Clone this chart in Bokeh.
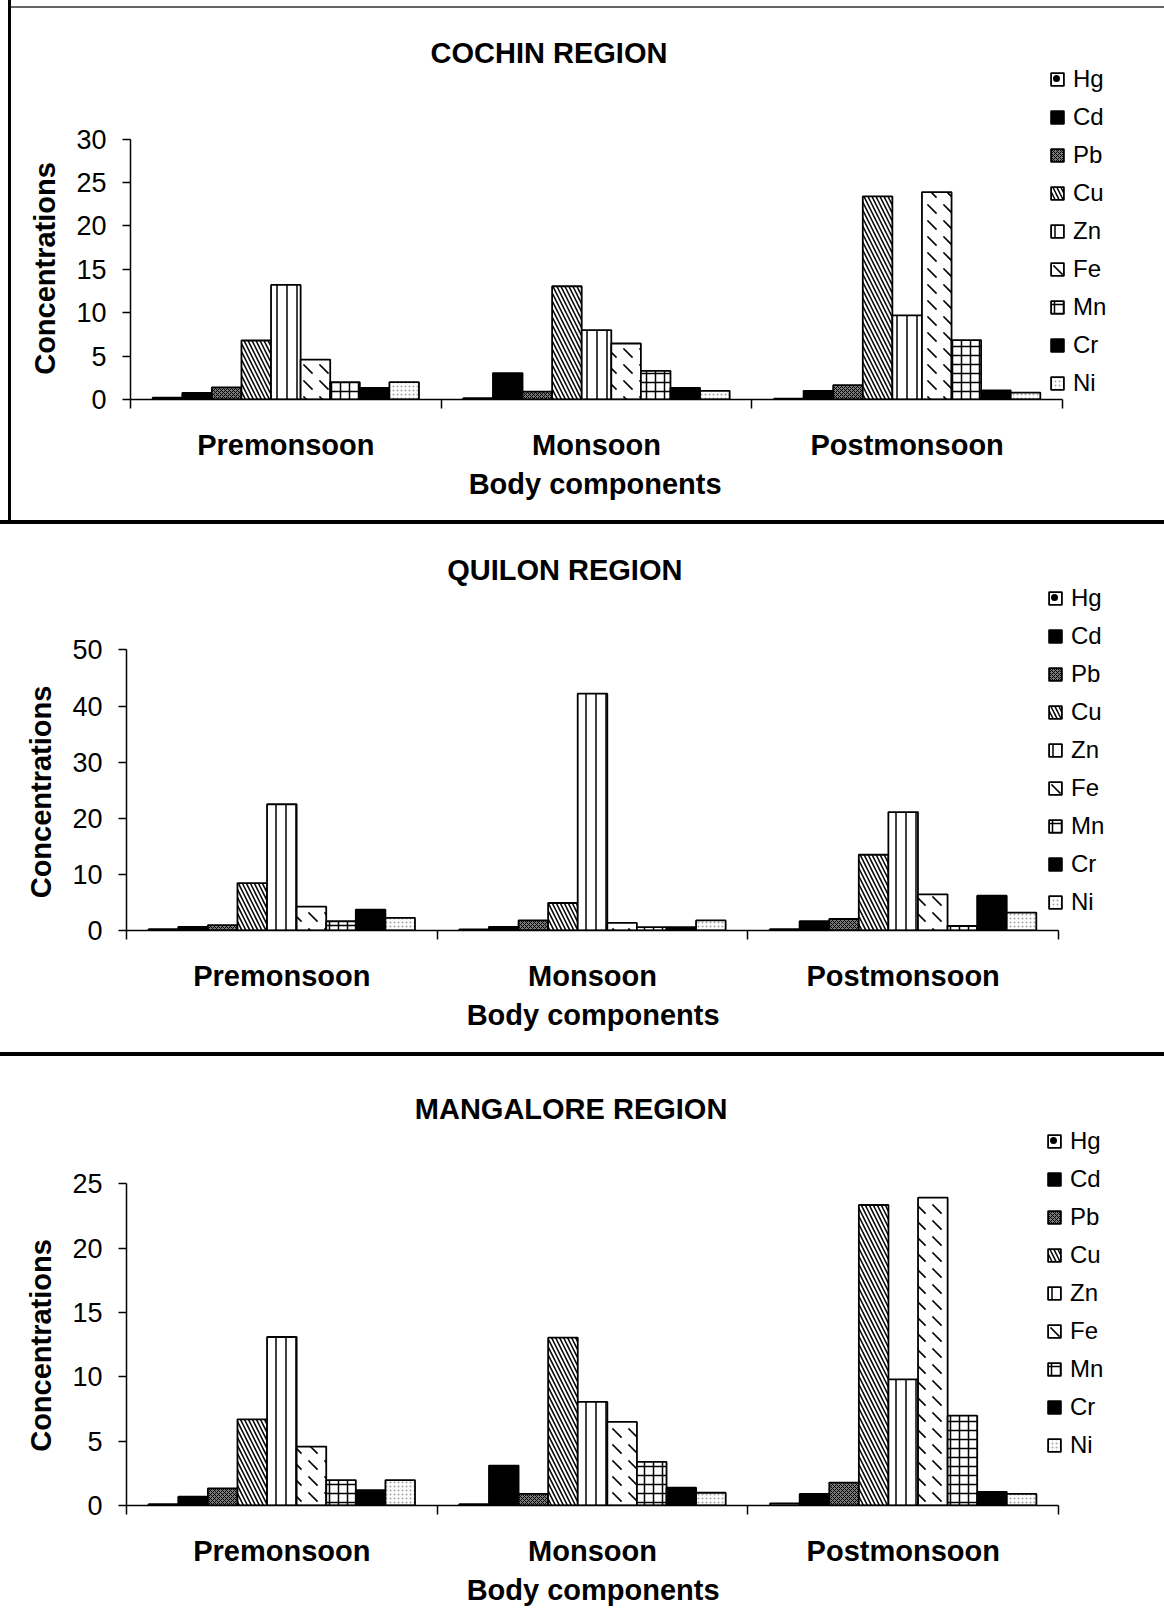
import numpy as np
from bokeh.plotting import figure
from bokeh.models import (ColumnDataSource, Range1d, FixedTicker, Legend, LegendItem,
                          Label, Div)
from bokeh.layouts import column, row
from bokeh.embed import file_html
from bokeh.resources import INLINE

seasons = ["Premonsoon", "Monsoon", "Postmonsoon"]
metals = ["Hg", "Cd", "Pb", "Cu", "Zn", "Fe", "Mn", "Cr", "Ni"]

# values per season, in metal order Hg, Cd, Pb, Cu, Zn, Fe, Mn, Cr, Ni
cochin_premonsoon = [0.2, 0.75, 1.4, 6.8, 13.2, 4.6, 2.0, 1.35, 2.0]
cochin_monsoon = [0.15, 3.05, 0.9, 13.05, 8.0, 6.45, 3.3, 1.35, 1.0]
cochin_postmonsoon = [0.1, 1.0, 1.65, 23.4, 9.7, 23.9, 6.85, 1.05, 0.8]

quilon_premonsoon = [0.24, 0.65, 0.95, 8.45, 22.5, 4.25, 1.65, 3.7, 2.25]
quilon_monsoon = [0.18, 0.65, 1.8, 4.9, 42.2, 1.35, 0.6, 0.6, 1.8]
quilon_postmonsoon = [0.24, 1.65, 2.05, 13.5, 21.1, 6.45, 0.8, 6.2, 3.2]

mangalore_premonsoon = [0.1, 0.68, 1.33, 6.7, 13.1, 4.58, 1.98, 1.19, 1.98]
mangalore_monsoon = [0.1, 3.1, 0.9, 13.05, 8.05, 6.5, 3.39, 1.38, 0.99]
mangalore_postmonsoon = [0.17, 0.9, 1.78, 23.36, 9.8, 23.93, 6.98, 1.05, 0.9]

cochin_ticks = [0, 5, 10, 15, 20, 25, 30]
quilon_ticks = [0, 10, 20, 30, 40, 50]
mangalore_ticks = [0, 5, 10, 15, 20, 25]

x_title = "Body components"
y_title = "Concentrations"

FONT = "Liberation Sans"
LABEL_PX = 29
NBSP_W = 0.278 * LABEL_PX  # advance of a no-break space in Liberation Sans Bold

STYLES = {
    "Hg": dict(fill_color="white", hatch_pattern="dot", hatch_scale=14, hatch_weight=1.5),
    "Cd": dict(fill_color="black"),
    "Pb": dict(fill_color="#7a7a7a", hatch_pattern="diagonal_cross", hatch_scale=4, hatch_weight=1),
    "Cu": dict(fill_color="white", hatch_pattern="left_diagonal_line", hatch_scale=8, hatch_weight=1.5),
    "Zn": dict(fill_color="white", hatch_pattern="vertical_line", hatch_scale=10, hatch_weight=1.5),
    "Fe": dict(fill_color="white", hatch_pattern="left_diagonal_dash", hatch_scale=16, hatch_weight=1.6),
    "Mn": dict(fill_color="white", hatch_pattern="cross", hatch_scale=9, hatch_weight=1.5),
    "Cr": dict(fill_color="black"),
    "Ni": dict(fill_color="white", hatch_pattern="dot", hatch_scale=4, hatch_weight=1, hatch_alpha=0.35),
}


def pad_to_shift(text, shift_px):
    """Trailing no-break spaces move the visible text of a centred label by shift_px."""
    n = max(0, int(round(2 * shift_px / NBSP_W)))
    return text + "\u00a0" * n


def make_chart(title, rows, ticks, canvas_left, canvas_top, width, height,
               axis_left, axis_right, axis_top, axis_bottom,
               title_cx, title_cy, legend_left, legend_last_center):
    """Layout is given in page pixels; the frame fills the canvas above/right of the axes
    so that the title and legend drawn inside it are never clipped."""
    ymax = ticks[-1]
    ncat = len(seasons)
    ppx = (axis_right - axis_left) / ncat
    ppy = (axis_bottom - axis_top) / ymax
    frame_right = canvas_left + width
    x_end = ncat + (frame_right - axis_right) / ppx
    y_end = (axis_bottom - canvas_top) / ppy

    p = figure(width=width, height=height, output_backend="svg", toolbar_location=None,
               x_range=Range1d(0, x_end), y_range=Range1d(0, y_end),
               min_border_left=axis_left - canvas_left, min_border_right=0,
               min_border_top=0, min_border_bottom=canvas_top + height - axis_bottom)
    p.outline_line_color = None
    p.xgrid.visible = False
    p.ygrid.visible = False
    p.background_fill_color = "white"
    p.border_fill_color = "white"

    p.add_layout(Label(x=(title_cx - axis_left) / ppx, y=(axis_bottom - title_cy) / ppy,
                       text=title, text_align="center", text_baseline="middle",
                       text_font=FONT, text_font_size="29px", text_font_style="bold",
                       text_color="black"))

    n = len(metals)
    w = 1.0 / (n + 1.5)
    centers = np.arange(ncat) + 0.5
    items = []
    for j, m in enumerate(metals):
        tops = [rows[i][j] for i in range(ncat)]
        src = ColumnDataSource(dict(x=centers + (j - (n - 1) / 2) * w, top=tops))
        r = p.vbar(x="x", top="top", bottom=0, width=w, source=src,
                   line_color="black", line_width=1.8, **STYLES[m])
        items.append(LegendItem(label=m, renderers=[r]))

    legend = Legend(items=items,
                    location=(legend_left - axis_left, axis_bottom - legend_last_center - 14.5),
                    orientation="vertical",
                    glyph_width=16, glyph_height=16, label_height=16, spacing=10,
                    padding=0, margin=0, label_standoff=8,
                    label_text_font=FONT, label_text_font_size="24px", label_text_color="black",
                    border_line_color=None, background_fill_alpha=0)
    p.add_layout(legend)

    # the axis titles are centred on the whole frame; shift them onto the drawn axes
    x_shift = (axis_left + frame_right) / 2 - (axis_left + axis_right) / 2
    y_shift = (axis_top + axis_bottom) / 2 - (canvas_top + axis_bottom) / 2

    xa = p.xaxis[0]
    xa.bounds = (0, ncat)
    xa.ticker = FixedTicker(ticks=list(centers), minor_ticks=list(range(ncat + 1)))
    xa.major_label_overrides = {float(c): s for c, s in zip(centers, seasons)}
    xa.major_tick_out = 0
    xa.major_tick_in = 0
    xa.minor_tick_out = 9
    xa.minor_tick_in = 0
    xa.minor_tick_line_width = 1.5
    xa.minor_tick_line_color = "black"
    xa.axis_line_width = 1.5
    xa.axis_line_color = "black"
    xa.major_label_text_font = FONT
    xa.major_label_text_font_size = "29px"
    xa.major_label_text_font_style = "bold"
    xa.major_label_text_color = "black"
    xa.major_label_standoff = 20
    xa.axis_label = pad_to_shift(x_title, x_shift)
    xa.axis_label_text_font = FONT
    xa.axis_label_text_font_size = f"{LABEL_PX}px"
    xa.axis_label_text_font_style = "bold"
    xa.axis_label_text_color = "black"
    xa.axis_label_standoff = 4

    ya = p.yaxis[0]
    ya.bounds = (0, ymax)
    ya.ticker = FixedTicker(ticks=ticks, minor_ticks=[])
    ya.major_tick_out = 8
    ya.major_tick_in = 0
    ya.minor_tick_out = 0
    ya.minor_tick_in = 0
    ya.major_tick_line_width = 1.5
    ya.axis_line_width = 1.5
    ya.axis_line_color = "black"
    ya.major_tick_line_color = "black"
    ya.major_label_text_font = FONT
    ya.major_label_text_font_size = "27px"
    ya.major_label_text_color = "black"
    ya.major_label_standoff = 16
    ya.axis_label = pad_to_shift(y_title, y_shift)
    ya.axis_label_text_font = FONT
    ya.axis_label_text_font_size = f"{LABEL_PX}px"
    ya.axis_label_text_font_style = "bold"
    ya.axis_label_text_color = "black"
    ya.axis_label_standoff = 12
    return p


p1 = make_chart("COCHIN REGION", [cochin_premonsoon, cochin_monsoon, cochin_postmonsoon],
                cochin_ticks, 11, 8, 1153, 512,
                130, 1062, 138.6, 399, 548.5, 52.5, 1049, 382)
p2 = make_chart("QUILON REGION", [quilon_premonsoon, quilon_monsoon, quilon_postmonsoon],
                quilon_ticks, 0, 524, 1164, 528,
                126, 1058, 649.4, 930, 564.3, 569.6, 1047, 901.4)
p3 = make_chart("MANGALORE REGION", [mangalore_premonsoon, mangalore_monsoon, mangalore_postmonsoon],
                mangalore_ticks, 0, 1056, 1164, 565,
                125, 1058, 1183.4, 1505, 570, 1108, 1045, 1444.4)


def block(w, h, color):
    return Div(text="", width=w, height=h, margin=0, styles={"background-color": color})


top_block = row(block(8, 520, "white"), block(3, 520, "black"),
                column(block(1153, 6, "white"), block(1153, 2, "#666666"), p1, spacing=0),
                spacing=0)
layout = column(top_block, block(1164, 4, "black"), p2, block(1164, 4, "black"), p3, spacing=0)
open("out.html", "w").write(file_html(layout, INLINE))
